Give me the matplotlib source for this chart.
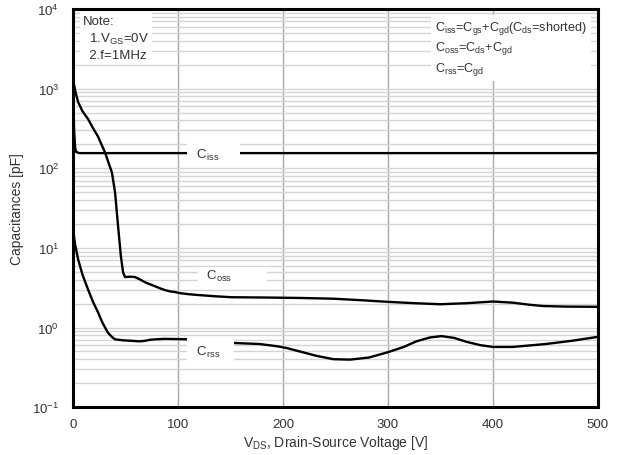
import matplotlib
matplotlib.use("Agg")
import matplotlib.pyplot as plt
from matplotlib.ticker import LogLocator, FixedLocator, NullFormatter

plt.rcParams['font.family'] = ['Liberation Sans', 'DejaVu Sans']
plt.rcParams['mathtext.fontset'] = 'custom'
plt.rcParams['mathtext.rm'] = 'Liberation Sans'
plt.rcParams['mathtext.it'] = 'Liberation Sans:italic'
plt.rcParams['mathtext.default'] = 'regular'

# Capacitance vs drain-source voltage (V_GS = 0 V, f = 1 MHz)
ciss_v = [0, 0.5, 1, 2, 3, 6, 50, 100, 200, 300, 400, 500]
ciss_pf = [1200, 600, 300, 180, 160, 155, 155, 155, 155, 155, 155, 155]

coss_v = [0, 2, 4.8, 9, 14.3, 19, 23.8, 27, 30.5, 34, 37, 40, 42.9, 45.5, 47.6,
          49.5, 55, 59, 64, 68.6, 73, 78, 83, 87.6, 92, 97, 102, 110, 119, 135,
          151, 183, 216, 248, 275, 300, 325, 350, 375, 400, 419, 435, 448, 470, 499]
coss_pf = [1300, 950, 680, 520, 415, 320, 250, 200, 158, 115, 89, 50, 18.7, 8.0, 4.97,
           4.3, 4.35, 4.3, 4.0, 3.7, 3.5, 3.3, 3.1, 2.95, 2.85, 2.79, 2.7, 2.62, 2.56, 2.47,
           2.4, 2.38, 2.35, 2.3, 2.2, 2.1, 2.02, 1.96, 2.02, 2.12, 2.05, 1.93, 1.86, 1.83, 1.82]

crss_v = [0, 2, 4.8, 9, 14.3, 19, 23.8, 28, 33, 37, 40, 48, 56, 63, 68.6, 73, 78,
          87.6, 100, 113, 135, 152, 178, 195, 204, 216, 232, 248, 264, 282, 300,
          315, 327, 340, 351, 363, 375, 388, 400, 419, 450, 475, 499]
crss_pf = [17, 11, 7.2, 4.6, 3.0, 2.1, 1.55, 1.15, 0.87, 0.76, 0.71, 0.69, 0.68, 0.67, 0.68, 0.70, 0.71,
           0.72, 0.715, 0.71, 0.68, 0.64, 0.62, 0.58, 0.55, 0.50, 0.44, 0.40, 0.395, 0.42, 0.49,
           0.57, 0.67, 0.75, 0.78, 0.74, 0.66, 0.60, 0.57, 0.57, 0.62, 0.68, 0.76]

x_ticks = [0, 100, 200, 300, 400, 500]
y_ticks = [1e-1, 1e0, 1e1, 1e2, 1e3, 1e4]
y_tick_labels = [r'$10^{-1}$', r'$10^{0}$', r'$10^{1}$', r'$10^{2}$', r'$10^{3}$', r'$10^{4}$']

fig = plt.figure(figsize=(6.19, 4.56), dpi=100)
ax = fig.add_axes([0.118, 0.105, 0.848, 0.873])

ax.set_yscale('log')
ax.set_xlim(0, 500)
ax.set_ylim(1e-1, 1e4)

# grid: vertical major lines, horizontal minor lines
ax.xaxis.set_major_locator(FixedLocator(x_ticks))
ax.yaxis.set_major_locator(FixedLocator(y_ticks))
ax.yaxis.set_minor_locator(LogLocator(base=10, subs=range(2, 10)))
ax.yaxis.set_minor_formatter(NullFormatter())
ax.set_yticklabels(y_tick_labels)
ax.grid(True, axis='x', which='major', color='#a8a8a8', lw=1.0, zorder=0)
ax.grid(True, axis='y', which='both', color='#d4d4d4', lw=1.0, zorder=0)
ax.tick_params(which='both', length=0, labelsize=9.5, labelcolor='#333333')
ax.tick_params(axis='y', pad=10)
ax.tick_params(axis='x', pad=8)

for s in ax.spines.values():
    s.set_linewidth(2.2)
    s.set_color('black')
    s.set_zorder(6)

line_kw = dict(color='black', lw=1.7, zorder=3)
ax.plot(ciss_v, ciss_pf, **line_kw)
ax.plot(coss_v, coss_pf, **line_kw)
ax.plot(crss_v, crss_pf, **line_kw)

# curve labels on white patches
box = dict(facecolor='white', edgecolor='none', pad=4)
ax.text(114, 150, r' $C_{iss}$     ', fontsize=9.5, color='#333333', ha='left', va='center',
        bbox=box, zorder=4)
ax.text(120, 4.45, r'  $C_{oss}$          ', fontsize=9.5, color='#333333', ha='left', va='center',
        bbox=dict(facecolor='white', edgecolor='none', pad=1), zorder=2)
ax.text(114, 0.50, r' $C_{rss}$   ', fontsize=9.5, color='#333333', ha='left', va='center',
        bbox=box, zorder=4)

# test conditions
ax.text(0.018, 0.985, 'Note:\n  1.$V_{GS}$=0V\n  2.f=1MHz', transform=ax.transAxes,
        fontsize=9.5, color='#333333', ha='left', va='top', linespacing=1.35,
        bbox=dict(facecolor='white', edgecolor='none', pad=2), zorder=4)

# definitions
ax.text(0.69, 0.975,
        '$C_{iss}$=$C_{gs}$+$C_{gd}$($C_{ds}$=shorted)\n$C_{oss}$=$C_{ds}$+$C_{gd}$\n$C_{rss}$=$C_{gd}$',
        transform=ax.transAxes, fontsize=9.1, color='#333333', ha='left', va='top',
        linespacing=1.3, bbox=dict(facecolor='white', edgecolor='none', pad=3), zorder=4)

ax.set_xlabel('$V_{DS}$, Drain-Source Voltage [V]', fontsize=10, color='#333333', labelpad=2)
ax.set_ylabel('Capacitances [pF]', fontsize=10, color='#333333', labelpad=6)

fig.savefig('out.png', dpi=100)
